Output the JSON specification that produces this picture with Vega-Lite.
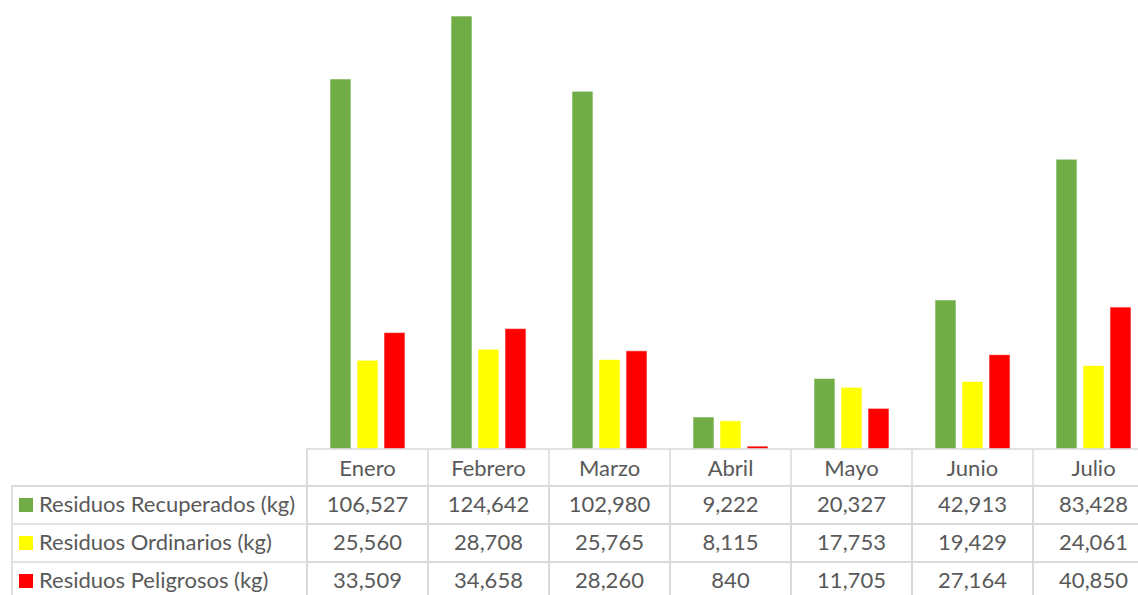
{
  "$schema": "https://vega.github.io/schema/vega-lite/v6.json",
  "padding": {"left": 10, "top": 0, "right": 0, "bottom": 0},
  "background": "#ffffff",
  "config": {
    "view": {"stroke": null},
    "font": "Lato",
    "text": {"font": "Lato", "fontSize": 22, "color": "#595959"}
  },
  "datasets": {
    "d": [
      {"month": "Enero", "serie": "Residuos Recuperados (kg)", "value": 106527},
      {"month": "Enero", "serie": "Residuos Ordinarios (kg)", "value": 25560},
      {"month": "Enero", "serie": "Residuos Peligrosos (kg)", "value": 33509},
      {"month": "Febrero", "serie": "Residuos Recuperados (kg)", "value": 124642},
      {"month": "Febrero", "serie": "Residuos Ordinarios (kg)", "value": 28708},
      {"month": "Febrero", "serie": "Residuos Peligrosos (kg)", "value": 34658},
      {"month": "Marzo", "serie": "Residuos Recuperados (kg)", "value": 102980},
      {"month": "Marzo", "serie": "Residuos Ordinarios (kg)", "value": 25765},
      {"month": "Marzo", "serie": "Residuos Peligrosos (kg)", "value": 28260},
      {"month": "Abril", "serie": "Residuos Recuperados (kg)", "value": 9222},
      {"month": "Abril", "serie": "Residuos Ordinarios (kg)", "value": 8115},
      {"month": "Abril", "serie": "Residuos Peligrosos (kg)", "value": 840},
      {"month": "Mayo", "serie": "Residuos Recuperados (kg)", "value": 20327},
      {"month": "Mayo", "serie": "Residuos Ordinarios (kg)", "value": 17753},
      {"month": "Mayo", "serie": "Residuos Peligrosos (kg)", "value": 11705},
      {"month": "Junio", "serie": "Residuos Recuperados (kg)", "value": 42913},
      {"month": "Junio", "serie": "Residuos Ordinarios (kg)", "value": 19429},
      {"month": "Junio", "serie": "Residuos Peligrosos (kg)", "value": 27164},
      {"month": "Julio", "serie": "Residuos Recuperados (kg)", "value": 83428},
      {"month": "Julio", "serie": "Residuos Ordinarios (kg)", "value": 24061},
      {"month": "Julio", "serie": "Residuos Peligrosos (kg)", "value": 40850}
    ]
  },
  "columns": 2,
  "spacing": 0,
  "bounds": "flush",
  "concat": [
    {
      "width": 295, "height": 449,
      "data": {"name": "d"},
      "mark": {"type": "text", "text": ""},
      "encoding": {}
    },
    {
      "width": 847, "height": 449,
      "data": {"name": "d"},
      "mark": {"type": "bar", "stroke": "#ffffff", "strokeOpacity": 0.6, "strokeWidth": 1},
      "encoding": {
        "x": {"field": "month", "type": "nominal", "sort": ["Enero", "Febrero", "Marzo", "Abril", "Mayo", "Junio", "Julio"], "scale": {"paddingInner": 0.38, "paddingOuter": 0.19}, "axis": null},
        "xOffset": {"field": "serie", "type": "nominal", "sort": ["Residuos Recuperados (kg)", "Residuos Ordinarios (kg)", "Residuos Peligrosos (kg)"], "scale": {"paddingInner": 0.222, "paddingOuter": 0}},
        "y": {"field": "value", "type": "quantitative", "scale": {"domain": [0, 129250], "nice": false, "zero": true}, "axis": null},
        "color": {"field": "serie", "type": "nominal", "scale": {"domain": ["Residuos Recuperados (kg)", "Residuos Ordinarios (kg)", "Residuos Peligrosos (kg)"], "range": ["#70AD47", "#FFFF00", "#FF0000"]}, "legend": null}
      }
    },
    {
      "width": 295, "height": 37,
      "data": {"name": "d"},
      "mark": {"type": "text", "text": ""},
      "encoding": {}
    },
    {
      "width": 847, "height": 37,
      "data": {"name": "d"},
      "transform": [{"aggregate": [{"op": "count", "as": "n"}], "groupby": ["month"]}],
      "view": {"stroke": "#d9d9d9", "strokeWidth": 1.5},
      "encoding": {
        "x": {"field": "month", "type": "nominal", "sort": ["Enero", "Febrero", "Marzo", "Abril", "Mayo", "Junio", "Julio"], "scale": {"type": "band", "paddingInner": 0, "paddingOuter": 0}, "axis": null}
      },
      "layer": [
        {
          "mark": {"type": "rule", "color": "#d9d9d9", "strokeWidth": 1.5},
          "encoding": {"x": {"field": "month", "type": "nominal", "sort": ["Enero", "Febrero", "Marzo", "Abril", "Mayo", "Junio", "Julio"], "bandPosition": 0, "axis": null}}
        },
        {
          "mark": {"type": "text", "fontSize": 22, "color": "#595959", "dy": 1},
          "encoding": {"text": {"field": "month"}}
        }
      ]
    },
    {
      "width": 295, "height": 114,
      "data": {"name": "d"},
      "transform": [{"aggregate": [{"op": "count", "as": "n"}], "groupby": ["serie"]}],
      "view": {"stroke": "#d9d9d9", "strokeWidth": 1.5},
      "encoding": {
        "y": {"field": "serie", "type": "nominal", "sort": ["Residuos Recuperados (kg)", "Residuos Ordinarios (kg)", "Residuos Peligrosos (kg)"], "scale": {"type": "band", "paddingInner": 0, "paddingOuter": 0}, "axis": null}
      },
      "layer": [
        {
          "mark": {"type": "rule", "color": "#d9d9d9", "strokeWidth": 1.5},
          "encoding": {"y": {"field": "serie", "type": "nominal", "sort": ["Residuos Recuperados (kg)", "Residuos Ordinarios (kg)", "Residuos Peligrosos (kg)"], "bandPosition": 0, "axis": null}}
        },
        {
          "mark": {"type": "point", "shape": "square", "filled": true, "size": 196, "opacity": 1, "xOffset": -133.5},
          "encoding": {
            "color": {"field": "serie", "type": "nominal", "scale": {"domain": ["Residuos Recuperados (kg)", "Residuos Ordinarios (kg)", "Residuos Peligrosos (kg)"], "range": ["#70AD47", "#FFFF00", "#FF0000"]}, "legend": null}
          }
        },
        {
          "mark": {"type": "text", "align": "left", "dx": -120.5, "fontSize": 22, "color": "#595959"},
          "encoding": {"text": {"field": "serie"}}
        }
      ]
    },
    {
      "width": 847, "height": 114,
      "data": {"name": "d"},
      "view": {"stroke": "#d9d9d9", "strokeWidth": 1.5},
      "encoding": {
        "x": {"field": "month", "type": "nominal", "sort": ["Enero", "Febrero", "Marzo", "Abril", "Mayo", "Junio", "Julio"], "scale": {"type": "band", "paddingInner": 0, "paddingOuter": 0}, "axis": null},
        "y": {"field": "serie", "type": "nominal", "sort": ["Residuos Recuperados (kg)", "Residuos Ordinarios (kg)", "Residuos Peligrosos (kg)"], "scale": {"type": "band", "paddingInner": 0, "paddingOuter": 0}, "axis": null}
      },
      "layer": [
        {
          "mark": {"type": "rule", "color": "#d9d9d9", "strokeWidth": 1.5},
          "encoding": {"x": {"field": "month", "type": "nominal", "sort": ["Enero", "Febrero", "Marzo", "Abril", "Mayo", "Junio", "Julio"], "bandPosition": 0, "axis": null}, "y": null}
        },
        {
          "mark": {"type": "rule", "color": "#d9d9d9", "strokeWidth": 1.5},
          "encoding": {"y": {"field": "serie", "type": "nominal", "sort": ["Residuos Recuperados (kg)", "Residuos Ordinarios (kg)", "Residuos Peligrosos (kg)"], "bandPosition": 0, "axis": null}, "x": null}
        },
        {
          "mark": {"type": "text", "fontSize": 22, "color": "#595959"},
          "encoding": {"text": {"field": "value", "type": "quantitative", "format": ",d"}}
        }
      ]
    }
  ]
}
